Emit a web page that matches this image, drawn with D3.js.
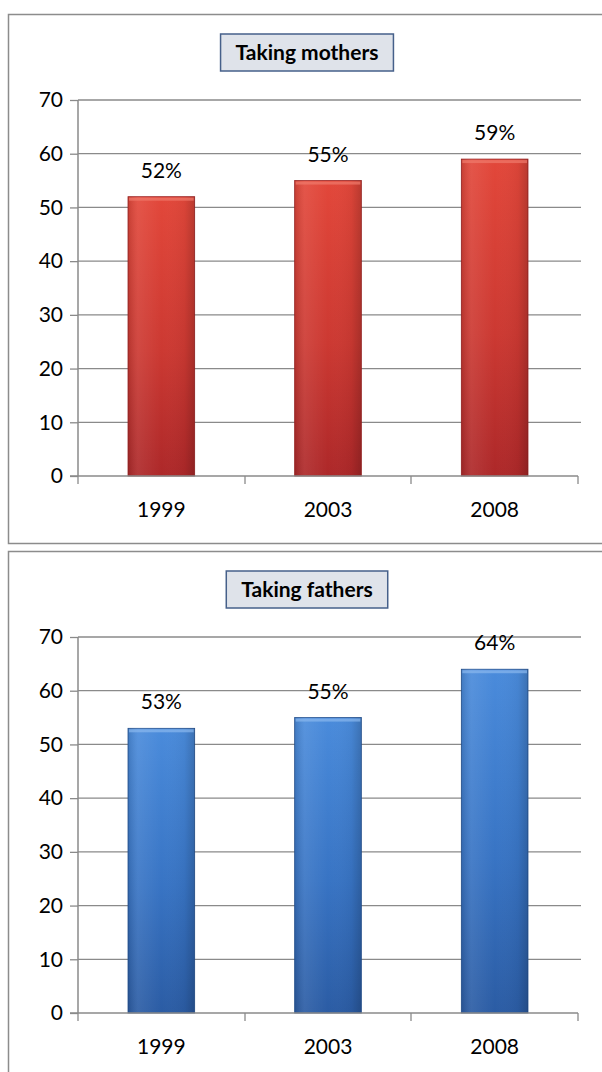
<!DOCTYPE html>
<html><head><meta charset="utf-8">
<script src="https://cdn.jsdelivr.net/npm/d3@7"></script>
<style>body{margin:0;background:#fff}svg{display:block}</style>
</head><body>
<script>
const years = ["1999", "2003", "2008"];
const mothers = [52, 55, 59];
const fathers = [53, 55, 64];
const yTicks = [0, 10, 20, 30, 40, 50, 60, 70];
const titles = ["Taking mothers", "Taking fathers"];

const W = 602, H = 1072;
const svg = d3.select("body").append("svg").attr("width", W).attr("height", H);
const defs = svg.append("defs");

const palettes = [
  {id: "red", top: "#e2473a", mid: "#cc3932", bot: "#ad2829", edge: "#9a2323", hi: "#f07a6c"},
  {id: "blue", top: "#4a8bdb", mid: "#3874c4", bot: "#2b5ca4", edge: "#24518f", hi: "#8ab8ee"}
];
palettes.forEach(p => {
  const g = defs.append("linearGradient").attr("id", "g-" + p.id).attr("x1", 0).attr("y1", 0).attr("x2", 0).attr("y2", 1);
  g.append("stop").attr("offset", "0%").attr("stop-color", p.top);
  g.append("stop").attr("offset", "55%").attr("stop-color", p.mid);
  g.append("stop").attr("offset", "100%").attr("stop-color", p.bot);
  const h = defs.append("linearGradient").attr("id", "h-" + p.id).attr("x1", 0).attr("y1", 0).attr("x2", 1).attr("y2", 0);
  h.append("stop").attr("offset", "0%").attr("stop-color", "#000").attr("stop-opacity", 0.12);
  h.append("stop").attr("offset", "15%").attr("stop-color", "#fff").attr("stop-opacity", 0.08);
  h.append("stop").attr("offset", "50%").attr("stop-color", "#fff").attr("stop-opacity", 0.0);
  h.append("stop").attr("offset", "85%").attr("stop-color", "#000").attr("stop-opacity", 0.04);
  h.append("stop").attr("offset", "100%").attr("stop-color", "#000").attr("stop-opacity", 0.18);
});

const font = "Lato, 'Open Sans', sans-serif";
const panels = [
  {top: 14, height: 529, values: mothers, title: titles[0], pal: palettes[0]},
  {top: 551, height: 540, values: fathers, title: titles[1], pal: palettes[1]}
];

const x = d3.scaleBand().domain(years).range([78, 578]).paddingInner(0.6).paddingOuter(0.3);

panels.forEach(p => {
  const g = svg.append("g").attr("transform", `translate(0,${p.top})`);
  g.append("rect").attr("x", 8.5).attr("y", 0.5).attr("width", W + 10).attr("height", p.height)
    .attr("fill", "#fff").attr("stroke", "#8c8c8c").attr("stroke-width", 1.5);

  const y = d3.scaleLinear().domain([0, 70]).range([462, 86]);

  g.append("g").selectAll("line").data(yTicks.filter(d => d > 0)).join("line")
    .attr("x1", 78).attr("x2", 581).attr("y1", d => y(d)).attr("y2", d => y(d))
    .attr("stroke", "#8a8a8a").attr("stroke-width", 1.3);

  const ya = g.append("g").attr("transform", "translate(78,0)")
    .call(d3.axisLeft(y).tickValues(yTicks).tickSize(8).tickPadding(7));
  ya.select(".domain").attr("stroke", "#8a8a8a").attr("stroke-width", 1.5).attr("d", `M0,${y(70)}V${y(0)}`);
  ya.selectAll(".tick line").attr("stroke", "#8a8a8a").attr("stroke-width", 1.3);
  ya.selectAll(".tick text").attr("font-family", font).attr("font-size", 21).attr("fill", "#000");

  const bars = g.append("g").selectAll("g").data(years.map((d, i) => ({year: d, v: p.values[i]}))).join("g");
  bars.append("rect").attr("x", d => x(d.year)).attr("y", d => y(d.v))
    .attr("width", x.bandwidth()).attr("height", d => y(0) - y(d.v))
    .attr("fill", `url(#g-${p.pal.id})`).attr("stroke", p.pal.edge).attr("stroke-width", 0.8);
  bars.append("rect").attr("x", d => x(d.year)).attr("y", d => y(d.v))
    .attr("width", x.bandwidth()).attr("height", d => y(0) - y(d.v))
    .attr("fill", `url(#h-${p.pal.id})`);
  bars.append("rect").attr("x", d => x(d.year) + 1).attr("y", d => y(d.v) + 1)
    .attr("width", x.bandwidth() - 2).attr("height", 3)
    .attr("fill", p.pal.hi).attr("opacity", 0.7);

  bars.append("text").attr("x", d => x(d.year) + x.bandwidth() / 2).attr("y", d => y(d.v) - 19)
    .attr("text-anchor", "middle").attr("font-family", font).attr("font-size", 21).attr("fill", "#000")
    .text(d => d.v + "%");

  const xa = g.append("g").attr("transform", `translate(0,${y(0)})`)
    .call(d3.axisBottom(x).tickSize(0).tickPadding(26));
  xa.select(".domain").attr("stroke", "#8a8a8a").attr("stroke-width", 1.5).attr("d", `M70,0H578`);
  xa.selectAll(".tick text").attr("font-family", font).attr("font-size", 21).attr("fill", "#000");
  g.append("g").selectAll("line").data([78, 245, 411, 578]).join("line")
    .attr("x1", d => d).attr("x2", d => d).attr("y1", y(0)).attr("y2", y(0) + 8)
    .attr("stroke", "#8a8a8a").attr("stroke-width", 1.3);

  const tg = g.append("g");
  const tt = tg.append("text").attr("x", 307).attr("y", 46).attr("text-anchor", "middle")
    .attr("font-family", font).attr("font-weight", "bold").attr("font-size", 21).attr("fill", "#000")
    .text(p.title);
  const bb = tt.node().getBBox();
  tg.insert("rect", "text").attr("x", bb.x - 15).attr("y", 20).attr("width", bb.width + 30).attr("height", 37)
    .attr("fill", "#dfe3ea").attr("stroke", "#46608a").attr("stroke-width", 1.5);
});
</script>
</body></html>
